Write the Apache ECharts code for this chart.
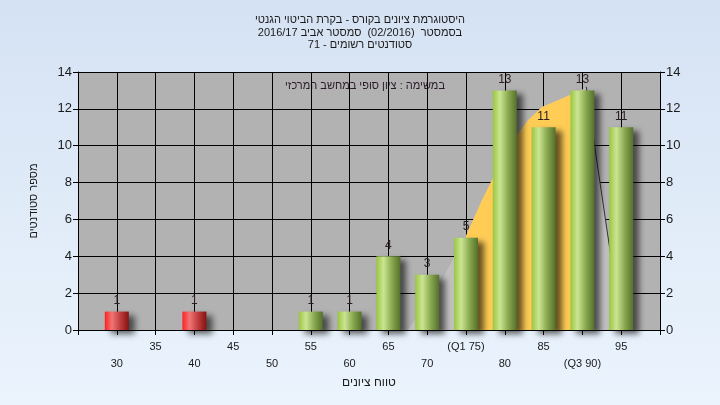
<!DOCTYPE html>
<html><head><meta charset="utf-8">
<script src="https://cdn.jsdelivr.net/npm/echarts@6/dist/echarts.min.js"></script>
<style>html,body{margin:0;padding:0;background:#fff}#c{width:720px;height:405px}</style>
</head><body><div id="c"></div>
<script>
// ---- data ----
const titleLines = [
  'היסטוגרמת ציונים בקורס - בקרת הביטוי הגנטי',
  'בסמסטר  (02/2016)  סמסטר אביב 2016/17',
  'סטודנטים רשומים - 71'
];
const noteText = 'במשימה : ציון סופי במחשב המרכזי';
const xAxisTitle = 'טווח ציונים';
const yAxisTitle = 'מספר סטודנטים';
const categories = [30, 35, 40, 45, 50, 55, 60, 65, 70, 75, 80, 85, 90, 95];
const counts     = [1, 0, 1, 0, 0, 1, 1, 4, 3, 5, 13, 11, 13, 11];
const tickLabels = ['30', '35', '40', '45', '50', '55', '60', '65', '70', '(Q1 75)', '80', '85', '(Q3 90)', '95'];
const failLimit = 50;          // bars below this score are red
const q1 = 75, q3 = 90;
const curveX = [67.5, 70, 72, 73.5, 75, 77, 78.3, 80, 81.6, 83, 84.8, 87, 88.4, 90, 90.5, 91.6, 93.6, 95];
const curveY = [0, 1.5, 2.8, 4.0, 5.1, 7.0, 8.1, 9.5, 10.6, 11.4, 12.1, 12.5, 12.75, 13.05, 13.2, 9.9, 4.2, 0];
const xMin = 25, xMax = 100, xStep = 5;
const yMin = 0, yMax = 14, yStep = 2;

// ---- build ----
const FONT = "'Liberation Sans', 'DejaVu Sans', Arial, sans-serif";
const curveAll = curveX.map((x, i) => [x, curveY[i]]);
const curveMid = curveAll.filter(p => p[0] >= q1 && p[0] <= q3);
const peakIdx = curveY.indexOf(Math.max(...curveY));
const curveRight = curveAll.slice(peakIdx);
const barData = categories.map((c, i) => [c, counts[i]]).filter(p => p[1] > 0);

const green = new echarts.graphic.LinearGradient(0, 0, 1, 0, [
  {offset: 0, color: '#9AC641'}, {offset: 0.3, color: '#CBE592'},
  {offset: 0.65, color: '#88A84E'}, {offset: 1, color: '#55702B'}]);
const red = new echarts.graphic.LinearGradient(0, 0, 1, 0, [
  {offset: 0, color: '#FF2222'}, {offset: 0.3, color: '#F07575'},
  {offset: 0.65, color: '#BE3C3C'}, {offset: 1, color: '#861212'}]);

const chart = echarts.init(document.getElementById('c'), null, {renderer: 'canvas'});
chart.setOption({
  animation: false,
  backgroundColor: new echarts.graphic.LinearGradient(0, 0, 0, 1, [
    {offset: 0, color: '#D5E2F3'}, {offset: 1, color: '#EBF4FD'}]),
  title: {
    text: titleLines.join('\n'), left: 'center', top: 9,
    textStyle: {fontFamily: FONT, fontSize: 11, fontWeight: 'normal', color: '#1a1a1a', lineHeight: 12.5}
  },
  graphic: [{
    type: 'text', x: 445, y: 86,
    style: {text: noteText, font: '11px ' + FONT, fill: '#2a1a2a', textAlign: 'right', textVerticalAlign: 'middle'}
  }],
  grid: {left: 78, right: 60, top: 72, bottom: 75, show: true, backgroundColor: '#B2B2B2', borderWidth: 0},
  xAxis: {
    type: 'value', min: xMin, max: xMax, interval: xStep,
    name: xAxisTitle, nameLocation: 'middle', nameGap: 45,
    nameTextStyle: {fontFamily: FONT, fontSize: 12, color: '#1a1a1a'},
    axisLine: {lineStyle: {color: '#000', width: 1}},
    axisTick: {show: true, length: 5, lineStyle: {color: '#000'}},
    splitLine: {show: true, lineStyle: {color: '#000', width: 1}},
    axisLabel: {
      fontFamily: FONT, fontSize: 11, color: '#1a1a1a', margin: 8, lineHeight: 17,
      showMinLabel: true, showMaxLabel: true,
      formatter: v => {
        const i = Math.round((v - categories[0]) / xStep);
        if (i < 0 || i >= tickLabels.length) return '';
        return i % 2 === 0 ? '\n' + tickLabels[i] : tickLabels[i];
      }
    }
  },
  yAxis: [{
    type: 'value', min: yMin, max: yMax, interval: yStep, position: 'left',
    name: yAxisTitle, nameLocation: 'middle', nameGap: 39,
    nameTextStyle: {fontFamily: FONT, fontSize: 11, color: '#1a1a1a'},
    axisLine: {show: true, lineStyle: {color: '#000'}},
    axisTick: {show: true, length: 5, lineStyle: {color: '#000'}},
    splitLine: {show: true, lineStyle: {color: '#000', width: 1}},
    axisLabel: {fontFamily: FONT, fontSize: 13, color: '#1a1a1a', margin: 6}
  }, {
    type: 'value', min: yMin, max: yMax, interval: yStep, position: 'right',
    axisLine: {show: true, lineStyle: {color: '#000'}},
    axisTick: {show: true, length: 5, lineStyle: {color: '#000'}},
    splitLine: {show: false},
    axisLabel: {fontFamily: FONT, fontSize: 13, color: '#1a1a1a', margin: 6}
  }],
  series: [{
    type: 'line', data: curveAll, showSymbol: false, smooth: false,
    lineStyle: {width: 0}, areaStyle: {color: '#C0C0C0', opacity: 1}, z: 1, silent: true
  }, {
    type: 'line', data: curveMid, showSymbol: false,
    lineStyle: {width: 0}, areaStyle: {color: '#FFCC55', opacity: 1}, z: 2, silent: true
  }, {
    type: 'line', data: curveRight, showSymbol: false,
    lineStyle: {width: 1, color: '#333'}, z: 3, silent: true
  }, {
    type: 'bar', data: barData, barWidth: 24, z: 5,
    itemStyle: {
      color: p => (p.value[0] < failLimit ? red : green),
      shadowColor: 'rgba(0,0,0,0.6)', shadowBlur: 6, shadowOffsetX: 6, shadowOffsetY: 4
    },
    label: {show: true, position: 'top', distance: 5, fontFamily: FONT, fontSize: 12, color: '#2a2024',
      formatter: p => String(p.value[1])}
  }]
});
</script></body></html>
